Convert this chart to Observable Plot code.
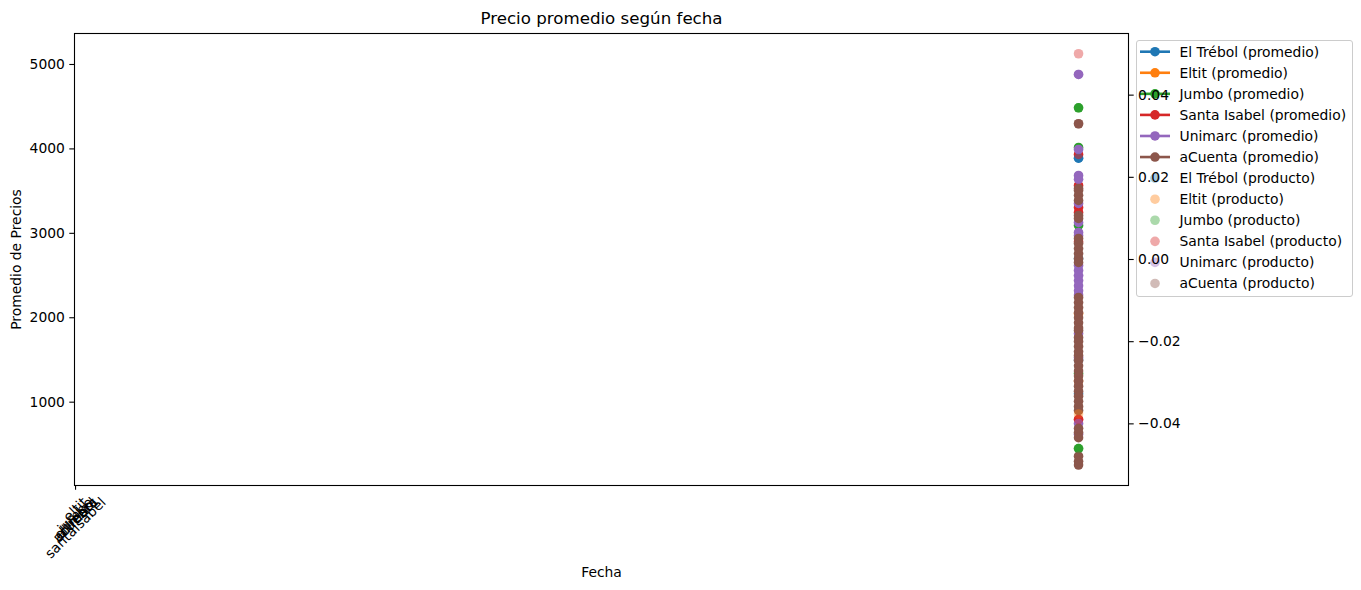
<!DOCTYPE html>
<html><head><meta charset="utf-8">
<script src="https://cdn.jsdelivr.net/npm/d3@7"></script>
<script src="https://cdn.jsdelivr.net/npm/@observablehq/plot@0.6"></script>
<style>
body{margin:0;background:#fff;}
#wrap{position:relative;width:1361px;height:590px;font-family:"DejaVu Sans";}
#legend{position:absolute;left:1136px;top:40px;width:217px;height:257px;background:rgba(255,255,255,0.8);border:1px solid #ccc;border-radius:3px;box-sizing:border-box;z-index:0}
#chart{position:absolute;left:0;top:0;z-index:1}
</style></head><body><div id="wrap"><div id="legend"></div><div id="chart"></div></div>
<script>
// ---- data ----
const tiendas = ["El Trébol", "Eltit", "Jumbo", "Santa Isabel", "Unimarc", "aCuenta"];
const colores = ["#1f77b4", "#ff7f0e", "#2ca02c", "#d62728", "#9467bd", "#8c564b"];
const etiquetasX = ["acuenta", "eltrebol", "unimarc", "jumbo", "eltit", "santaisabel"];
const posEtiqueta = 0.001;   // position of the category tick on the x scale
const posFecha = 0.9526;     // position of the date on the x scale

const promedioElTrebol = [3890, 2700, 1500, 1100];
const promedioEltit = [1250, 2050];
const promedioJumbo = [4487, 4017, 3093, 1340, 451];
const promedioSantaIsabel = [3934, 3567, 3306, 3247, 2900, 795];
const promedioUnimarc = [4882, 3993, 3685, 3640, 3354, 3129, 3010, 2975, 2620, 2560, 2500, 2440, 2380, 2320, 2270, 1814, 1530, 748, 620];
const promedioACuenta = [4298, 3531, 3508, 3450, 3390, 3212, 3176, 2939, 2880, 2820, 2760, 2700, 2655, 2240, 2180, 2120, 2060, 2000, 1940, 1880, 1850, 1766, 1720, 1660, 1600, 1553, 1494, 1430, 1370, 1310, 1250, 1190, 1130, 1070, 1010, 950, 900, 690, 640, 580, 360, 300, 256];

const productoElTrebol = [3890];
const productoEltit = [860];
const productoJumbo = [4487, 451];
const productoSantaIsabel = [5127, 795];
const productoUnimarc = [4882, 2500];
const productoACuenta = [4298, 1250];

const ticksIzq = [1000, 2000, 3000, 4000, 5000];
const ticksDer = [-0.04, -0.02, 0, 0.02, 0.04];
const dominioY = [13, 5367];
const dominioDer = [-0.055, 0.055];

// ---- tables ----
const promedios = [promedioElTrebol, promedioEltit, promedioJumbo, promedioSantaIsabel, promedioUnimarc, promedioACuenta];
const productos = [productoElTrebol, productoEltit, productoJumbo, productoSantaIsabel, productoUnimarc, productoACuenta];
const filasProm = tiendas.flatMap((t, i) => promedios[i].map(v => ({tienda: t, x: posFecha, v})));
const filasProd = tiendas.flatMap((t, i) => productos[i].map(v => ({tienda: t, x: posFecha, v})));

const aIzq = v => dominioY[0] + (v - dominioDer[0]) / (dominioDer[1] - dominioDer[0]) * (dominioY[1] - dominioY[0]);
const deIzq = y => dominioDer[0] + (y - dominioY[0]) / (dominioY[1] - dominioY[0]) * (dominioDer[1] - dominioDer[0]);
const fmtDer = y => { const v = Math.round(deIzq(y) * 100) / 100; return (v < 0 ? "\u2212" : "") + Math.abs(v).toFixed(2); };

const FS = 13.89;
const ctx = document.createElement("canvas").getContext("2d");
ctx.font = `${FS}px "DejaVu Sans"`;
const marcasEtiquetas = etiquetasX.map(lbl => {
  const w = ctx.measureText(lbl).width;
  const dy = 9.6 + (w + 14) * 0.7071 / 2;
  return Plot.text([lbl], {x: () => posEtiqueta, text: d => d, frameAnchor: "bottom", dy, rotate: -45, textAnchor: "middle", lineAnchor: "middle", fill: "black"});
});

const chart = Plot.plot({
  width: 1361, height: 590,
  marginLeft: 74, marginRight: 233, marginTop: 33, marginBottom: 105,
  style: {background: "transparent", fontFamily: "DejaVu Sans", fontSize: FS + "px", color: "black", overflow: "visible"},
  x: {domain: [0, 1], axis: null},
  y: {domain: dominioY, axis: null},
  color: {domain: tiendas, range: colores},
  marks: [
    Plot.dot(filasProm, {x: "x", y: "v", fill: "tienda", r: 4.8}),
    Plot.dot(filasProd, {x: "x", y: "v", fill: "tienda", r: 4.8, fillOpacity: 0.4}),
    Plot.frame({stroke: "black", strokeWidth: 1.1}),
    Plot.axisY({ticks: ticksIzq, tickFormat: d => String(d), tickSize: 4.7, tickPadding: 4.9, label: null, strokeWidth: 1.1}),
    Plot.axisX({ticks: [posEtiqueta], tickFormat: () => "", tickSize: 4.7, label: null, strokeWidth: 1.1}),
    ...marcasEtiquetas,
    Plot.axisY(ticksDer.map(aIzq), {anchor: "right", tickFormat: fmtDer, tickSize: 4.7, tickPadding: 4.9, label: null, strokeWidth: 1.1}),
    Plot.text(["Promedio de Precios"], {frameAnchor: "left", dx: -58, rotate: -90, textAnchor: "middle", lineAnchor: "middle", text: d => d, fill: "black"}),
    Plot.text(["Fecha"], {frameAnchor: "bottom", dy: 87, textAnchor: "middle", lineAnchor: "middle", text: d => d, fill: "black"}),
    Plot.text(["Precio promedio según fecha"], {frameAnchor: "top", dy: -15, textAnchor: "middle", lineAnchor: "middle", text: d => d, fontSize: 16.67, fill: "black"})
  ]
});
document.getElementById("chart").appendChild(chart);

// ---- legend ----
const leg = d3.select("#legend").append("svg").attr("width", 215).attr("height", 255)
  .style("font-family", "DejaVu Sans").style("font-size", FS + "px");
const entradas = [
  ...tiendas.map((t, i) => ({label: `${t} (promedio)`, color: colores[i], linea: true})),
  ...tiendas.map((t, i) => ({label: `${t} (producto)`, color: colores[i], linea: false}))
];
entradas.forEach((e, k) => {
  const y = 10.7 + k * 21.07;
  const g = leg.append("g");
  if (e.linea) g.append("line").attr("x1", 3).attr("x2", 33).attr("y1", y).attr("y2", y).attr("stroke", e.color).attr("stroke-width", 2.6);
  g.append("circle").attr("cx", 18).attr("cy", y).attr("r", 4.8).attr("fill", e.color).attr("fill-opacity", e.linea ? 1 : 0.4);
  g.append("text").attr("x", 42.5).attr("y", y).attr("dominant-baseline", "central").text(e.label);
});
</script></body></html>
